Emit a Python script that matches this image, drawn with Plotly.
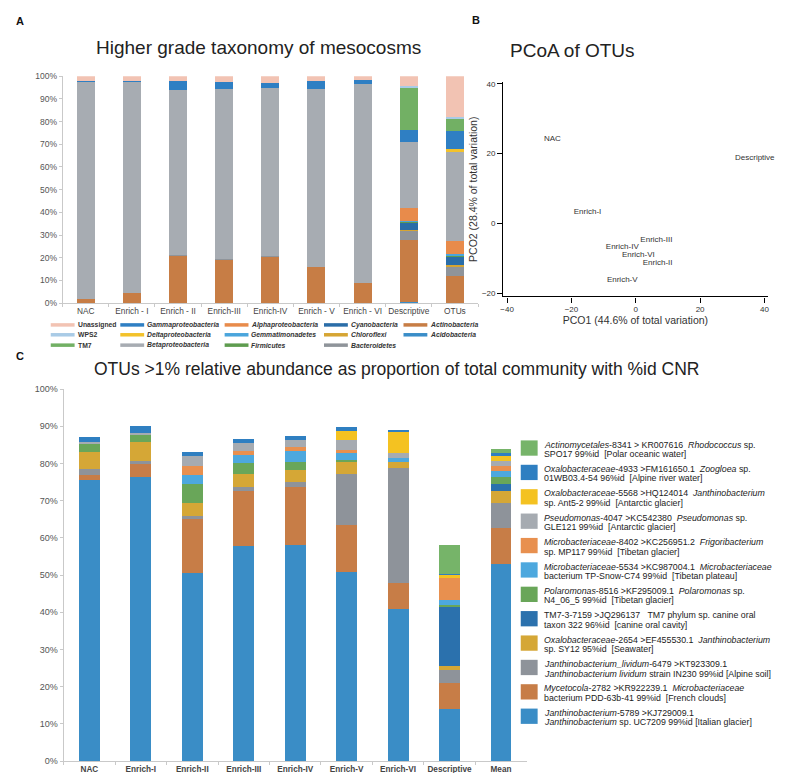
import plotly.graph_objects as go

W, H = 787, 773
FONT = "Liberation Sans, Arial, sans-serif"

# ---------------- Panel A data ----------------
samples_A = ["NAC", "Enrich - I", "Enrich - II", "Enrich-III", "Enrich-IV", "Enrich - V", "Enrich - VI", "Descriptive", "OTUs"]
# listed top -> bottom of the stack (same as legend, column-major)
taxa_A = ["Unassigned", "WPS2", "TM7", "Gammaproteobacteria", "Deltaproteobacteria", "Betaproteobacteria",
          "Alphaproteobacteria", "Gemmatimonadetes", "Firmicutes", "Cyanobacteria", "Chloroflexi",
          "Bacteroidetes", "Actinobacteria", "Acidobacteria"]
colors_A = ["#F2C3B3", "#A9CBE6", "#72B064", "#2F7FC3", "#F3C22B", "#A7ACB2",
            "#E88B4B", "#4AA5DC", "#5E9C4F", "#2A6DA8", "#D6A533", "#8F949A", "#C77D45", "#3A8DC8"]
unassigned = [2.3, 2.2, 2.3, 2.5, 2.9, 2.2, 1.7, 4.3, 18.0]
wps2 = [0, 0, 0, 0, 0, 0, 0, 0.8, 0.7]
tm7 = [0, 0, 0, 0, 0, 0, 0, 18.5, 5.6]
gamma = [0.3, 0.4, 3.6, 3.0, 2.3, 3.6, 1.6, 5.5, 7.6]
delta = [0, 0, 0, 0, 0, 0, 0, 0, 1.7]
beta = [95.7, 92.8, 72.9, 75.2, 74.0, 78.4, 88.0, 29.0, 38.8]
alpha = [0, 0, 0, 0, 0, 0, 0, 5.8, 6.1]
gemma = [0, 0, 0, 0, 0, 0, 0, 0.2, 0.6]
firmicutes = [0, 0, 0, 0, 0, 0, 0, 0.4, 0.5]
cyano = [0, 0, 0, 0, 0, 0, 0, 3.4, 3.4]
chloroflexi = [0, 0, 0, 0, 0, 0, 0, 0.2, 0.8]
bacteroidetes = [0, 0, 0.3, 0.2, 0.2, 0, 0, 4.1, 4.3]
actino = [1.7, 4.6, 20.9, 19.1, 20.6, 15.8, 8.7, 27.2, 11.6]
acido = [0, 0, 0, 0, 0, 0, 0, 0.6, 0.3]
values_A = [unassigned, wps2, tm7, gamma, delta, beta, alpha, gemma, firmicutes, cyano,
            chloroflexi, bacteroidetes, actino, acido]
italic_A = [False, False, False] + [True] * 11

# ---------------- Panel B data ----------------
pcoa_labels = ["NAC", "Enrich-I", "Enrich-II", "Enrich-III", "Enrich-IV", "Enrich-V", "Enrich-VI", "Descriptive"]
pco1 = [-25.9, -15.0, 6.8, 6.4, -4.2, -4.2, 0.8, 37.0]
pco2 = [24.1, 3.4, -11.3, -4.7, -6.6, -16.3, -9.1, 18.8]

# ---------------- Panel C data ----------------
samples_C = ["NAC", "Enrich-I", "Enrich-II", "Enrich-III", "Enrich-IV", "Enrich-V", "Enrich-VI", "Descriptive", "Mean"]
# listed top -> bottom of stack (legend order)
colors_C = ["#76B469", "#2F7FC1", "#F4C221", "#A6ABB1", "#E8904F", "#4DA8DE",
            "#69A659", "#2B71AD", "#D5A736", "#8E939A", "#C77D47", "#3A8DC6"]
act_8341 = [0, 0, 0, 0, 0, 0, 0, 7.8, 1.1]
oxa_4933 = [1.3, 2.0, 1.1, 1.0, 1.0, 1.2, 0.3, 0.2, 0.9]
oxa_5568 = [0, 0, 0, 0, 0, 2.4, 6.0, 0.9, 1.3]
pse_4047 = [0.6, 0.4, 2.5, 2.2, 1.9, 2.6, 1.1, 0, 1.2]
mic_8402 = [0, 0, 2.4, 1.0, 1.0, 0.7, 0, 5.8, 1.4]
mic_5534 = [0, 0, 2.4, 2.3, 3.0, 1.9, 1.2, 1.5, 1.6]
pol_8516 = [2.2, 1.8, 5.1, 2.8, 2.2, 0.6, 0, 0.4, 1.8]
tm7_7159 = [0, 0, 0, 0, 0, 0, 0, 16.0, 2.0]
oxa_2654 = [4.5, 5.1, 3.5, 3.6, 3.1, 3.3, 1.6, 1.1, 3.2]
jli_6479 = [1.6, 0.9, 0.8, 1.0, 1.3, 13.6, 30.9, 3.5, 6.7]
myc_2782 = [1.3, 3.5, 14.6, 14.9, 15.7, 12.6, 7.1, 6.8, 9.6]
jan_5789 = [75.7, 76.4, 50.6, 57.8, 58.1, 50.9, 40.8, 14.1, 53.1]
values_C = [act_8341, oxa_4933, oxa_5568, pse_4047, mic_8402, mic_5534, pol_8516,
            tm7_7159, oxa_2654, jli_6479, myc_2782, jan_5789]
legend_C_line1 = [
    "<i>Actinomycetales</i>-8341 &gt; KR007616&nbsp;&nbsp;<i>Rhodococcus</i> sp.",
    "<i>Oxalobacteraceae</i>-4933 &gt;FM161650.1&nbsp;&nbsp;<i>Zoogloea</i> sp.",
    "<i>Oxalobacteraceae</i>-5568 &gt;HQ124014&nbsp;&nbsp;<i>Janthinobacterium</i>",
    "<i>Pseudomonas</i>-4047 &gt;KC542380&nbsp;&nbsp;<i>Pseudomonas</i> sp.",
    "<i>Microbacteriaceae</i>-8402 &gt;KC256951.2&nbsp;&nbsp;<i>Frigoribacterium</i>",
    "<i>Microbacteriaceae</i>-5534 &gt;KC987004.1&nbsp;&nbsp;<i>Microbacteriaceae</i>",
    "<i>Polaromonas</i>-8516 &gt;KF295009.1&nbsp;&nbsp;<i>Polaromonas</i> sp.",
    "TM7-3-7159 &gt;JQ296137&nbsp;&nbsp;&nbsp;TM7 phylum sp. canine oral",
    "<i>Oxalobacteraceae</i>-2654 &gt;EF455530.1&nbsp;&nbsp;<i>Janthinobacterium</i>",
    "<i>Janthinobacterium_lividum</i>-6479 &gt;KT923309.1",
    "<i>Mycetocola</i>-2782 &gt;KR922239.1&nbsp;&nbsp;<i>Microbacteriaceae</i>",
    "<i>Janthinobacterium</i>-5789 &gt;KJ729009.1",
]
legend_C_line2 = [
    "SPO17 99%id&nbsp;&nbsp;[Polar oceanic water]",
    "01WB03.4-54 96%id&nbsp;&nbsp;[Alpine river water]",
    "sp. Ant5-2 99%id&nbsp;&nbsp;[Antarctic glacier]",
    "GLE121 99%id&nbsp;&nbsp;[Antarctic glacier]",
    "sp. MP117 99%id&nbsp;&nbsp;[Tibetan glacier]",
    "bacterium TP-Snow-C74 99%id&nbsp;&nbsp;[Tibetan plateau]",
    "N4_06_5 99%id&nbsp;&nbsp;[Tibetan glacier]",
    "taxon 322 96%id&nbsp;&nbsp;[canine oral cavity]",
    "sp. SY12 95%id&nbsp;&nbsp;[Seawater]",
    "<i>Janthinobacterium lividum</i> strain IN230 99%id [Alpine soil]",
    "bacterium PDD-63b-41 99%id&nbsp;&nbsp;[French clouds]",
    "<i>Janthinobacterium</i> sp. UC7209 99%id [Italian glacier]",
]

pct_ticks = list(range(0, 101, 10))
pct_text = [f"{v}%" for v in pct_ticks]


def px(x):
    return x / W


def py(y):
    return 1 - y / H


fig = go.Figure()

# Panel A bars (bottom of stack first)
for name, vals, col in reversed(list(zip(taxa_A, values_A, colors_A))):
    fig.add_trace(go.Bar(x=samples_A, y=vals, name=name, marker=dict(color=col, line=dict(width=0)),
                         width=0.39, xaxis="x", yaxis="y", showlegend=False))

# Panel B scatter of labels
fig.add_trace(go.Scatter(x=pco1, y=pco2, text=pcoa_labels, mode="text", textposition="middle center",
                         textfont=dict(family=FONT, size=8, color="#333"), xaxis="x2", yaxis="y2",
                         cliponaxis=False, showlegend=False))

# Panel C bars
for name, vals, col in reversed(list(zip(legend_C_line1, values_C, colors_C))):
    fig.add_trace(go.Bar(x=samples_C, y=vals, name=name, marker=dict(color=col, line=dict(width=0)),
                         width=0.405, xaxis="x3", yaxis="y3", showlegend=False))

axis_gray = "#c9c9c9"
fig.update_layout(
    width=W, height=H, margin=dict(l=0, r=0, t=0, b=0),
    paper_bgcolor="white", plot_bgcolor="white", barmode="stack",
    font=dict(family=FONT, color="#333"),
    xaxis=dict(domain=[px(52), px(470)], anchor="y", showline=True, linecolor=axis_gray, linewidth=1,
               ticks="outside", tickson="boundaries", ticklen=3, tickcolor=axis_gray, tickangle=0,
               tickfont=dict(size=8.3, color="#444"), showgrid=False, zeroline=False, range=[-0.5, 8.5]),
    yaxis=dict(domain=[py(294), py(64)], anchor="x", range=[0, 100], tickvals=pct_ticks, ticktext=pct_text,
               showline=True, linecolor=axis_gray, ticks="outside", ticklen=3, tickcolor=axis_gray,
               tickfont=dict(size=8.5, color="#555"), showgrid=False, zeroline=False),
    xaxis2=dict(domain=[px(495.4), px(761.5)], anchor="y2", range=[-41.2, 41], tickvals=[-40, -20, 0, 20, 40],
                showline=True, linecolor="black", linewidth=1.3, ticks="outside", ticklen=5, tickcolor="black",
                tickwidth=1.3, tickfont=dict(size=8, color="#333"), showgrid=False, zeroline=False,
                title=dict(text="PCO1 (44.6% of total variation)", font=dict(size=10.5, color="#333"), standoff=0)),
    yaxis2=dict(domain=[py(287.2), py(69.9)], anchor="x2", range=[-20.9, 40.5], tickvals=[-20, 0, 20, 40],
                showline=True, linecolor="black", linewidth=1.3, ticks="outside", ticklen=5, tickcolor="black",
                tickwidth=1.3, tickfont=dict(size=8, color="#333"), showgrid=False, zeroline=False,
                title=dict(text="PCO2 (28.4% of total variation)", font=dict(size=10.5, color="#333"), standoff=2)),
    xaxis3=dict(domain=[px(53), px(519)], anchor="y3", showline=True, linecolor=axis_gray, linewidth=1,
                ticks="outside", tickson="boundaries", ticklen=3, tickcolor=axis_gray, tickangle=0,
                tickvals=samples_C, ticktext=[f"<b>{s}</b>" for s in samples_C],
                tickfont=dict(size=8.2, color="#444"), showgrid=False, zeroline=False, range=[-0.5, 8.5]),
    yaxis3=dict(domain=[py(758), py(381)], anchor="x3", range=[0, 100], tickvals=pct_ticks, ticktext=pct_text,
                showline=True, linecolor=axis_gray, ticks="outside", ticklen=3, tickcolor=axis_gray,
                tickfont=dict(size=9, color="#555"), showgrid=False, zeroline=False),
)

ann = []
shapes = []
# panel letters
for letter, x, y in [("A", 3, 8), ("B", 462, 7), ("C", 3, 348)]:
    ann.append(dict(text=f"<b>{letter}</b>", x=px(x), y=py(y), xref="paper", yref="paper",
                    xanchor="left", yanchor="middle", showarrow=False, font=dict(size=11, color="#111")))
# titles
ann.append(dict(text="Higher grade taxonomy of mesocosms", x=px(249), y=py(35), xref="paper", yref="paper",
                xanchor="center", yanchor="middle", showarrow=False, font=dict(size=19, color="#222")))
ann.append(dict(text="PCoA of OTUs", x=px(565), y=py(38), xref="paper", yref="paper",
                xanchor="center", yanchor="middle", showarrow=False, font=dict(size=19, color="#222")))
ann.append(dict(text="OTUs &gt;1% relative abundance as proportion of total community with %id CNR",
                x=px(82), y=py(361), xref="paper", yref="paper", xanchor="left", yanchor="middle",
                showarrow=False, font=dict(size=17.5, color="#222")))

# Panel A legend (column-major, 3 rows)
col_x = [40, 110, 215, 315, 395]
row_y = [316, 326, 336.5]
for k, (name, col, it) in enumerate(zip(taxa_A, colors_A, italic_A)):
    cx = col_x[k // 3]
    ry = row_y[k % 3]
    shapes.append(dict(type="line", xref="paper", yref="paper", x0=px(cx), x1=px(cx + 24), y0=py(ry), y1=py(ry),
                       line=dict(color=col, width=3.5)))
    label = f"<b><i>{name}</i></b>" if it else f"<b>{name}</b>"
    ann.append(dict(text=label, x=px(cx + 25), y=py(ry), xref="paper", yref="paper", xanchor="left",
                    yanchor="middle", showarrow=False, font=dict(size=6.8, color="#333")))

# Panel C legend
for i, (l1, l2, col) in enumerate(zip(legend_C_line1, legend_C_line2, colors_C)):
    top = 433 + i * 24.7
    shapes.append(dict(type="rect", xref="paper", yref="paper", x0=px(513), x1=px(530), y0=py(top + 15.5),
                       y1=py(top), fillcolor=col, line=dict(width=0)))
    ann.append(dict(text=l1, x=px(534), y=py(top + 4.3), xref="paper", yref="paper", xanchor="left",
                    yanchor="middle", showarrow=False, font=dict(size=8.8, color="#222")))
    ann.append(dict(text=l2, x=px(534), y=py(top + 13.9), xref="paper", yref="paper", xanchor="left",
                    yanchor="middle", showarrow=False, font=dict(size=8.8, color="#222")))

fig.update_layout(annotations=ann, shapes=shapes)
fig.write_html("out.html")
